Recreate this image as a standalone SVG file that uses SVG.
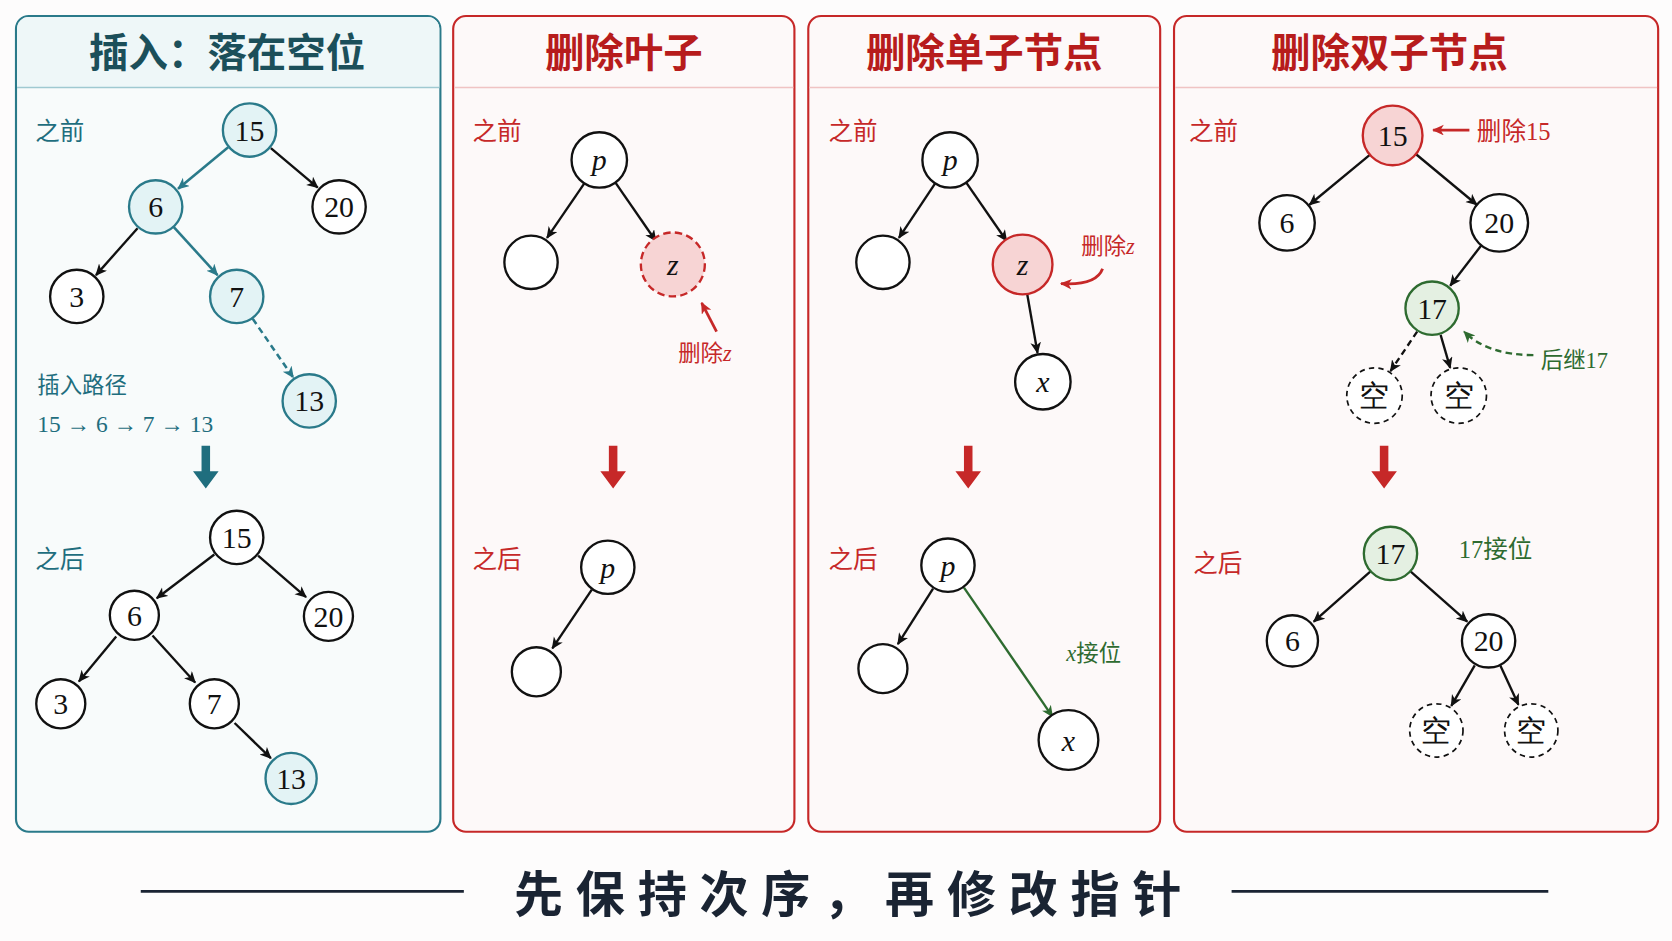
<svg xmlns="http://www.w3.org/2000/svg" width="1672" height="941" viewBox="0 0 1672 941">
<style>
.t{font-family:"Noto Sans CJK SC","Liberation Sans",sans-serif;}
.h{font-size:37px;font-weight:bold;text-anchor:middle}
.lb{font-size:23px}
.n{font-family:"Liberation Serif","DejaVu Serif",serif;font-size:28px;text-anchor:middle;dominant-baseline:central;fill:#111}
.v{font-style:italic}
.c{fill:#fff;stroke:#111;stroke-width:2.2}
.ct{fill:#e3f3f5;stroke:#2a7a8a;stroke-width:2.2}
.cr{fill:#f7d4d4;stroke:#c62828;stroke-width:2.2}
.cg{fill:#e4f0e2;stroke:#2e6b30;stroke-width:2.2}
.cd{fill:#fff;stroke:#111;stroke-width:1.6;stroke-dasharray:5 4}
.e{stroke:#111;stroke-width:2.2;fill:none;marker-end:url(#mk)}
.et{stroke:#2a7a8a;stroke-width:2.4;fill:none;marker-end:url(#mt)}
.er{stroke:#c62828;stroke-width:2.6;fill:none;marker-end:url(#mr)}
.eg{stroke:#2e6b30;stroke-width:2.2;fill:none;marker-end:url(#mg)}
.ds{stroke-dasharray:6 4}
</style>
<defs>
<marker id="mk" markerWidth="12" markerHeight="12" refX="10" refY="5" orient="auto" markerUnits="userSpaceOnUse"><path d="M0,0 L11,5 L0,10 L3,5z" fill="#111"/></marker>
<marker id="mt" markerWidth="12" markerHeight="12" refX="10" refY="5" orient="auto" markerUnits="userSpaceOnUse"><path d="M0,0 L11,5 L0,10 L3,5z" fill="#2a7a8a"/></marker>
<marker id="mr" markerWidth="12" markerHeight="12" refX="10" refY="5" orient="auto" markerUnits="userSpaceOnUse"><path d="M0,0 L11,5 L0,10 L3,5z" fill="#c62828"/></marker>
<marker id="mg" markerWidth="12" markerHeight="12" refX="10" refY="5" orient="auto" markerUnits="userSpaceOnUse"><path d="M0,0 L11,5 L0,10 L3,5z" fill="#2e6b30"/></marker>
</defs>
<rect width="1672" height="941" fill="#fdfcfc"/>
<g transform="scale(1.06633)">
<g id="panels">
<rect x="15" y="15" width="398" height="765" rx="12" fill="#f8fbfb" stroke="#2a7a8a" stroke-width="2"/>
<path d="M16,82 V27 a11,11 0 0 1 11,-11 H401 a11,11 0 0 1 11,11 V82z" fill="#eef7f8"/>
<line x1="16" y1="82" x2="412" y2="82" stroke="#9fc9d1" stroke-width="1.5"/>
<text class="t h" x="213" y="63" fill="#1b4f5a">插入：落在空位</text>
<rect x="425" y="15" width="320" height="765" rx="12" fill="#fdf9f9" stroke="#c62828" stroke-width="2"/>
<rect x="758" y="15" width="330" height="765" rx="12" fill="#fdf9f9" stroke="#c62828" stroke-width="2"/>
<rect x="1101" y="15" width="454" height="765" rx="12" fill="#fdf9f9" stroke="#c62828" stroke-width="2"/>
<line x1="426" y1="82" x2="744" y2="82" stroke="#f0c4c4" stroke-width="1.5"/>
<line x1="759" y1="82" x2="1087" y2="82" stroke="#f0c4c4" stroke-width="1.5"/>
<line x1="1102" y1="82" x2="1554" y2="82" stroke="#f0c4c4" stroke-width="1.5"/>
<text class="t h" x="585" y="63" fill="#b71c1c">删除叶子</text>
<text class="t h" x="923" y="63" fill="#b71c1c">删除单子节点</text>
<text class="t h" x="1303" y="63" fill="#b71c1c">删除双子节点</text>
</g>
<g id="labels" class="t lb">
<text x="33" y="131" fill="#1f6e7e">之前</text>
<text x="33" y="533" fill="#1f6e7e">之后</text>
<text x="35" y="369" fill="#1f6e7e" font-size="21">插入路径</text>
<text x="35" y="405" fill="#1f6e7e" font-size="22" font-family="Liberation Serif,serif">15 → 6 → 7 → 13</text>
<text x="443" y="131" fill="#c62828">之前</text>
<text x="443" y="533" fill="#c62828">之后</text>
<text x="636" y="339" fill="#c62828" font-size="21">删除<tspan font-family="Liberation Serif,serif" font-style="italic">z</tspan></text>
<text x="777" y="131" fill="#c62828">之前</text>
<text x="777" y="533" fill="#c62828">之后</text>
<text x="1014" y="238" fill="#c62828" font-size="21">删除<tspan font-family="Liberation Serif,serif" font-style="italic">z</tspan></text>
<text x="1000" y="620" fill="#2e6b30" font-size="21"><tspan font-family="Liberation Serif,serif" font-style="italic">x</tspan>接位</text>
<text x="1115" y="131" fill="#c62828">之前</text>
<text x="1119" y="536" fill="#c62828">之后</text>
<text x="1385" y="131" fill="#c62828" font-size="23">删除<tspan font-family="Liberation Serif,serif">15</tspan></text>
<text x="1445" y="345" fill="#2e6b30" font-size="21">后继<tspan font-family="Liberation Serif,serif">17</tspan></text>
<text x="1368" y="523" fill="#2e6b30" font-size="23"><tspan font-family="Liberation Serif,serif">17</tspan>接位</text>
</g>
<g id="connectors">
<line class="et" x1="214" y1="138" x2="167" y2="177"/>
<line class="e" x1="254" y1="139" x2="298" y2="176"/>
<line class="e" x1="129" y1="214" x2="90" y2="258"/>
<line class="et" x1="163" y1="213" x2="204" y2="258"/>
<line class="et ds" x1="237" y1="299" x2="275" y2="354"/>
<line class="e" x1="201" y1="520" x2="147" y2="561"/>
<line class="e" x1="242" y1="521" x2="287" y2="560"/>
<line class="e" x1="109" y1="597" x2="74" y2="639"/>
<line class="e" x1="143" y1="596" x2="183" y2="640"/>
<line class="e" x1="220" y1="678" x2="254" y2="711"/>
<line class="e" x1="548" y1="172" x2="513" y2="223"/>
<line class="e" x1="577" y1="171" x2="615" y2="226"/>
<line class="e" x1="555" y1="553" x2="518" y2="608"/>
<line class="er" x1="672" y1="311" x2="658" y2="284"/>
<line class="e" x1="877" y1="172" x2="843" y2="223"/>
<line class="e" x1="906" y1="171" x2="944" y2="226"/>
<line class="e" x1="963" y1="274" x2="973" y2="331"/>
<path class="er" d="M1034,252 Q1028,268 995,266"/>
<line class="e" x1="875" y1="552" x2="842" y2="604"/>
<line class="eg" x1="904" y1="551" x2="987" y2="672"/>
<line class="e" x1="1286" y1="144" x2="1228" y2="192"/>
<line class="e" x1="1326" y1="143" x2="1385" y2="192"/>
<line class="er" x1="1378" y1="122" x2="1344" y2="122"/>
<line class="e" x1="1390" y1="229" x2="1360" y2="268"/>
<line class="e ds" x1="1329" y1="311" x2="1304" y2="348"/>
<line class="e" x1="1351" y1="314" x2="1360" y2="345"/>
<path class="eg ds" d="M1438,333 Q1395,333 1373,311" stroke-width="2.6"/>
<line class="e" x1="1285" y1="536" x2="1232" y2="583"/>
<line class="e" x1="1323" y1="536" x2="1376" y2="583"/>
<line class="e" x1="1383" y1="624" x2="1361" y2="662"/>
<line class="e" x1="1407" y1="624" x2="1424" y2="661"/>
<path d="M189,418 h8 v24 h8 l-12,16 l-12,-16 h8z" fill="#1f6e7e"/>
<path d="M571,418 h8 v24 h8 l-12,16 l-12,-16 h8z" fill="#c62828"/>
<path d="M904,418 h8 v24 h8 l-12,16 l-12,-16 h8z" fill="#c62828"/>
<path d="M1294,418 h8 v24 h8 l-12,16 l-12,-16 h8z" fill="#c62828"/>
</g>
<g id="n1a15"><circle class="ct" cx="234" cy="122" r="25"/><text class="n" x="234" y="122">15</text></g>
<g id="n1a6"><circle class="ct" cx="146" cy="194" r="25"/><text class="n" x="146" y="194">6</text></g>
<g id="n1a20"><circle class="c" cx="318" cy="194" r="25"/><text class="n" x="318" y="194">20</text></g>
<g id="n1a3"><circle class="c" cx="72" cy="278" r="25"/><text class="n" x="72" y="278">3</text></g>
<g id="n1a7"><circle class="ct" cx="222" cy="278" r="25"/><text class="n" x="222" y="278">7</text></g>
<g id="n1a13"><circle class="ct" cx="290" cy="376" r="25"/><text class="n" x="290" y="376">13</text></g>
<g id="n1b15"><circle class="c" cx="222" cy="504" r="25"/><text class="n" x="222" y="504">15</text></g>
<g id="n1b6"><circle class="c" cx="126" cy="577" r="23"/><text class="n" x="126" y="577">6</text></g>
<g id="n1b20"><circle class="c" cx="308" cy="578" r="23"/><text class="n" x="308" y="578">20</text></g>
<g id="n1b3"><circle class="c" cx="57" cy="660" r="23"/><text class="n" x="57" y="660">3</text></g>
<g id="n1b7"><circle class="c" cx="201" cy="660" r="23"/><text class="n" x="201" y="660">7</text></g>
<g id="n1b13"><circle class="ct" cx="273" cy="730" r="24"/><text class="n" x="273" y="730">13</text></g>
<g id="n2ap"><circle class="c" cx="562" cy="150" r="26"/><text class="n v" x="562" y="150">p</text></g>
<g id="n2ae"><circle class="c" cx="498" cy="246" r="25"/></g>
<g id="n2az"><circle class="cr" cx="631" cy="248" r="30" stroke-dasharray="7 4"/><text class="n v" x="631" y="248">z</text></g>
<g id="n2bp"><circle class="c" cx="570" cy="532" r="25"/><text class="n v" x="570" y="532">p</text></g>
<g id="n2be"><circle class="c" cx="503" cy="630" r="23"/></g>
<g id="n3ap"><circle class="c" cx="891" cy="150" r="26"/><text class="n v" x="891" y="150">p</text></g>
<g id="n3ae"><circle class="c" cx="828" cy="246" r="25"/></g>
<g id="n3az"><circle class="cr" cx="959" cy="248" r="28"/><text class="n v" x="959" y="248">z</text></g>
<g id="n3ax"><circle class="c" cx="978" cy="358" r="26"/><text class="n v" x="978" y="358">x</text></g>
<g id="n3bp"><circle class="c" cx="889" cy="530" r="25"/><text class="n v" x="889" y="530">p</text></g>
<g id="n3be"><circle class="c" cx="828" cy="627" r="23"/></g>
<g id="n3bx"><circle class="c" cx="1002" cy="694" r="28"/><text class="n v" x="1002" y="694">x</text></g>
<g id="n4a15"><circle class="cr" cx="1306" cy="127" r="28"/><text class="n" x="1306" y="127" font-size="30">15</text></g>
<g id="n4a6"><circle class="c" cx="1207" cy="209" r="26"/><text class="n" x="1207" y="209">6</text></g>
<g id="n4a20"><circle class="c" cx="1406" cy="209" r="27"/><text class="n" x="1406" y="209">20</text></g>
<g id="n4a17"><circle class="cg" cx="1343" cy="289" r="25"/><text class="n" x="1343" y="289">17</text></g>
<g id="n4ae1"><circle class="cd" cx="1289" cy="371" r="26"/><text class="n t" x="1289" y="371" font-size="20">空</text></g>
<g id="n4ae2"><circle class="cd" cx="1368" cy="371" r="26"/><text class="n t" x="1368" y="371" font-size="20">空</text></g>
<g id="n4b17"><circle class="cg" cx="1304" cy="519" r="25"/><text class="n" x="1304" y="519">17</text></g>
<g id="n4b6"><circle class="c" cx="1212" cy="601" r="24"/><text class="n" x="1212" y="601">6</text></g>
<g id="n4b20"><circle class="c" cx="1396" cy="601" r="25"/><text class="n" x="1396" y="601">20</text></g>
<g id="n4be1"><circle class="cd" cx="1347" cy="685" r="25"/><text class="n t" x="1347" y="685" font-size="20">空</text></g>
<g id="n4be2"><circle class="cd" cx="1436" cy="685" r="25"/><text class="n t" x="1436" y="685" font-size="20">空</text></g>
<g id="footer">
<line x1="132" y1="836" x2="435" y2="836" stroke="#1a2433" stroke-width="2.5"/>
<line x1="1155" y1="836" x2="1452" y2="836" stroke="#1a2433" stroke-width="2.5"/>
<text class="t" x="801" y="855" font-size="46" font-weight="bold" text-anchor="middle" letter-spacing="12" fill="#1a2433">先保持次序，再修改指针</text>
</g>
</g>
</svg>
